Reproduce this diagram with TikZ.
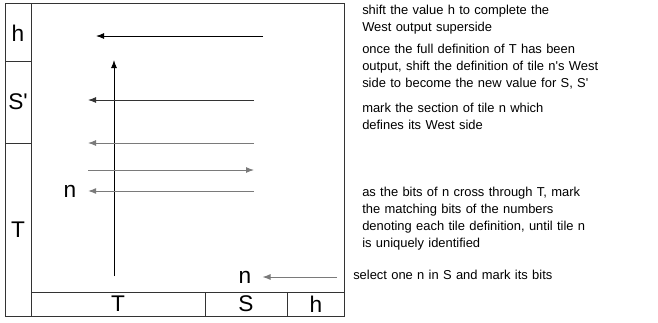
\documentclass[tikz,border=0pt]{standalone}
\usepackage{fontspec}
\setmainfont{Liberation Sans}
\usepackage{tikz}
\usetikzlibrary{arrows.meta}
\usetikzlibrary{calc,positioning}

\begin{document}
\begin{tikzpicture}[x=0.75pt, y=-0.75pt,
			cell/.style = {inner sep=0pt, font=\fontsize{17}{20}\selectfont},
			lbl/.style = {cell, inner sep=5.7pt},
			note/.style = {anchor=base west, inner sep=0pt, text width=240pt, align=left,
					font=\fontsize{9.7}{12.75}\selectfont},
			frame/.style = {black!80, line width=0.6pt},
			arr/.style = {-{Latex[length=6pt,width=4.5pt]}, line width=0.75pt},
			grayarr/.style = {arr, black!52},
			darkarr/.style = {arr, black!80}
		]
		\useasboundingbox (0,0) rectangle (658,322);
		% frame of the region
		\draw [frame] (5,3) rectangle (344,316);
		\draw [frame] (31,3) -- (31,316);
		\draw [frame] (31,292) -- (344,292);
		\draw [frame] (205,292) -- (205,316);
		\draw [frame] (287,292) -- (287,316);
		\draw [frame] (5,61) -- (31,61);
		\draw [frame] (5,143) -- (31,143);
		% cell labels
		\node [cell] (hw) at (18,33) {h};
		\node [cell] (sw) at (18,102) {S\textquotesingle};
		\node [cell] (tw) at (18,230) {T};
		\node [cell] (ts) at (118,304) {T};
		\node [cell] (ss) at (246,304) {S};
		\node [cell] (hs) at (316,304) {h};
		\node [lbl] (nw) at (70,191) {n};
		\node [lbl] (ns) at (245,277) {n};
		% arrows
		\coordinate (a1) at (263,36);
		\coordinate (b1) at (96,36);
		\coordinate (up0) at (114,276);
		\coordinate (up1) at (114,60);
		\coordinate (a2) at (254,100);
		\coordinate (b2) at (88,100);
		\coordinate (a3) at (254,143);
		\coordinate (b3) at (88,143);
		\coordinate (a4) at (88,170);
		\coordinate (b4) at (254,170);
		\coordinate (a5) at (254,191);
		\coordinate (a6) at (337,277);
		\draw [arr] (a1) -- (b1);
		\draw [arr] (up0) -- (up1);
		\draw [darkarr] (a2) -- (b2);
		\draw [grayarr] (a3) -- (b3);
		\draw [grayarr] (a4) -- (b4);
		\draw [grayarr, shorten >=3pt] (a5) -- (nw.east);
		\draw [grayarr, shorten >=2.5pt] (a6) -- (ns.east);
		% notes
		\node [note] (t1) at (362,14) {shift the value h to complete the\\West output superside};
		\node [note] (t2) at (362,53) {once the full definition of T has been\\output, shift the definition of tile n\textquotesingle s West\\side to become the new value for S, S\textquotesingle};
		\node [note] (t3) at (362,112) {mark the section of tile n which\\defines its West side};
		\node [note] (t4) at (362,196) {as the bits of n cross through T, mark\\the matching bits of the numbers\\denoting each tile definition, until tile n\\is uniquely identified};
		\node [note] (t5) at (353,279) {select one n in S and mark its bits};
	\end{tikzpicture}
\end{document}
